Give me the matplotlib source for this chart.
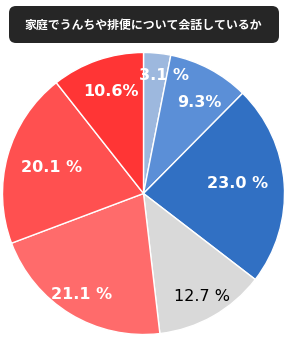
import matplotlib.pyplot as plt
import numpy as np
from matplotlib.patches import FancyBboxPatch

plt.rcParams['font.family'] = ['Noto Sans CJK JP', 'DejaVu Sans']

title = '家庭でうんちや排便について会話しているか'
values = [3.1, 9.3, 23.0, 12.7, 21.1, 20.1, 10.6]
labels = ['3.1 %', '9.3%', '23.0 %', '12.7 %', '21.1 %', '20.1 %', '10.6%']
colors = ['#9db8de', '#5b8fd7', '#3170c3', '#d9d9d9', '#ff6b6b', '#ff5050', '#ff3535']
text_colors = ['white', 'white', 'white', 'black', 'white', 'white', 'white']
text_weights = ['bold', 'bold', 'bold', 'normal', 'bold', 'bold', 'bold']
label_dist = [0.85, 0.76, 0.67, 0.84, 0.84, 0.68, 0.76]
angle_shift = [4.5, 3.5, -2, 0, 0, 0, 1.5]

W, H = 290, 351
fig = plt.figure(figsize=(W / 100, H / 100), dpi=100)

# pie area in pixels
cx, cy, R = 143.5, 193.5, 141
ax = fig.add_axes([(cx - R) / W, (H - cy - R) / H, 2 * R / W, 2 * R / H])
wedges, _ = ax.pie(values, colors=colors, startangle=90, counterclock=False,
                   wedgeprops=dict(edgecolor='white', linewidth=1))
ax.set_xlim(-1, 1)
ax.set_ylim(-1, 1)
ax.set_aspect('equal')
ax.axis('off')

for w, lab, d, c, fw, sh in zip(wedges, labels, label_dist, text_colors, text_weights, angle_shift):
    mid = np.deg2rad((w.theta1 + w.theta2) / 2 - sh)
    ax.text(d * np.cos(mid), d * np.sin(mid), lab, color=c, fontsize=11.5,
            fontweight=fw, family='DejaVu Sans', ha='center', va='center')

# title box
box = FancyBboxPatch((9, H - 43), 270, 37,
                     boxstyle='round,pad=0,rounding_size=7',
                     transform=None, facecolor='#262626',
                     edgecolor='none')
fig.patches.append(box)
fig.text(143 / W, 1 - 25 / H, title, color='white', fontsize=8.6,
         fontweight='bold', ha='center', va='center')

fig.savefig('out.png', dpi=100)
